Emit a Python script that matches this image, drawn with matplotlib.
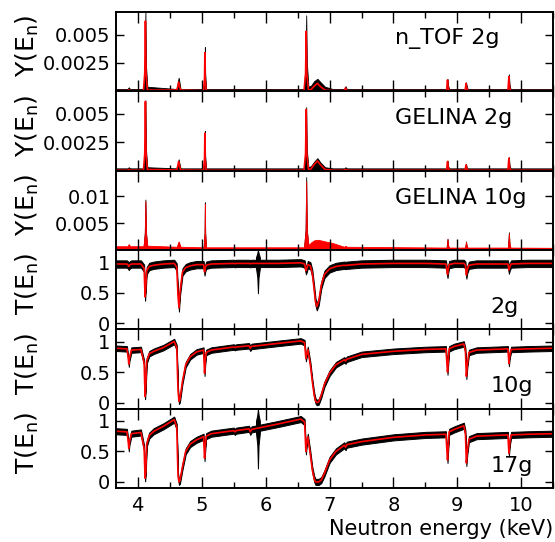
#capture yield and transmission of the 2g / 10g / 17g samples
#black = measured data, red = resonance shape fit

import matplotlib.pyplot as plt
from matplotlib.ticker import MultipleLocator
import numpy as np

plt.rcParams['font.family'] = 'DejaVu Sans'

# ---- capture yield panels (yield values in units of 1e-3) ----
e_yield = [3.66, 3.84, 3.86, 3.88,
           4.09, 4.11, 4.12, 4.13, 4.15,
           4.61, 4.63, 4.64, 4.65, 4.67,
           5.03, 5.045, 5.05, 5.055, 5.07,
           6.60, 6.625, 6.635, 6.645, 6.67,
           6.71, 6.76, 6.81, 6.86, 6.93, 7.05, 7.15,
           7.23, 7.25, 7.27,
           8.83, 8.845, 8.855, 8.87,
           9.12, 9.135, 9.145, 9.16,
           9.79, 9.805, 9.815, 9.83,
           10.5]

ntof2_fit = [0.05, 0.05, 0.12, 0.05,
             0.05, 1.6, 6.2, 1.6, 0.1,
             0.1, 0.5, 0.8, 0.5, 0.1,
             0.05, 1.2, 3.4, 1.2, 0.05,
             0.05, 1.5, 5.3, 1.5, 0.1,
             0.15, 0.45, 0.7, 0.4, 0.1, 0.05, 0.05,
             0.05, 0.3, 0.05,
             0.05, 1.0, 0.3, 0.05,
             0.05, 0.7, 0.3, 0.05,
             0.05, 1.3, 0.4, 0.05,
             0.05]
ntof2_data = [0.2, 0.2, 0.35, 0.2,
              0.2, 2.2, 7.0, 2.2, 0.4,
              0.2, 0.9, 1.2, 0.9, 0.2,
              0.2, 1.6, 3.9, 1.6, 0.2,
              0.2, 2.5, 6.7, 2.5, 0.4,
              0.5, 0.9, 1.1, 0.8, 0.4, 0.2, 0.2,
              0.2, 0.45, 0.2,
              0.2, 1.1, 0.5, 0.2,
              0.2, 0.8, 0.5, 0.2,
              0.2, 1.5, 0.6, 0.2,
              0.2]

gel2_fit = [0.03, 0.03, 0.1, 0.03,
            0.03, 1.5, 6.1, 1.5, 0.1,
            0.05, 0.5, 0.8, 0.5, 0.05,
            0.03, 1.1, 3.3, 1.1, 0.03,
            0.03, 1.5, 5.4, 1.5, 0.1,
            0.15, 0.55, 0.85, 0.5, 0.1, 0.03, 0.03,
            0.03, 0.1, 0.03,
            0.03, 0.8, 0.3, 0.03,
            0.03, 0.5, 0.2, 0.03,
            0.03, 1.1, 0.35, 0.03,
            0.03]
gel2_data = [0.2, 0.2, 0.3, 0.2,
             0.2, 1.8, 6.2, 1.8, 0.3,
             0.2, 0.7, 1.0, 0.7, 0.2,
             0.2, 1.3, 3.5, 1.3, 0.2,
             0.2, 1.8, 5.6, 1.8, 0.3,
             0.4, 0.8, 1.1, 0.7, 0.3, 0.2, 0.2,
             0.2, 0.3, 0.2,
             0.2, 0.9, 0.4, 0.2,
             0.2, 0.6, 0.3, 0.2,
             0.2, 1.2, 0.5, 0.2,
             0.2]

gel10_data = [0.7, 0.7, 1.1, 0.7,
              0.7, 3.0, 9.1, 3.0, 0.8,
              0.6, 1.3, 1.6, 1.3, 0.6,
              0.5, 3.0, 8.6, 3.0, 0.5,
              0.5, 3.5, 12.8, 3.5, 0.9,
              1.4, 1.8, 1.9, 1.8, 1.6, 1.3, 0.9,
              0.6, 0.8, 0.6,
              0.45, 2.0, 0.9, 0.45,
              0.45, 1.5, 0.8, 0.45,
              0.45, 3.1, 1.2, 0.45,
              0.4]
gel10_fit = [0.3, 0.3, 0.8, 0.3,
             0.3, 3.2, 9.4, 3.2, 0.5,
             0.3, 1.0, 1.4, 1.0, 0.3,
             0.3, 3.2, 8.9, 3.2, 0.3,
             0.3, 3.8, 13.6, 3.8, 0.6,
             1.0, 1.4, 1.5, 1.4, 1.2, 0.8, 0.4,
             0.3, 0.5, 0.3,
             0.3, 2.1, 0.6, 0.3,
             0.3, 1.6, 0.5, 0.3,
             0.3, 3.3, 0.8, 0.3,
             0.3]

# ---- transmission panels ----
e_trans = [3.66, 3.83, 3.85, 3.86, 3.87, 3.90,
           4.05, 4.10, 4.115, 4.125, 4.14, 4.18, 4.25, 4.40,
           4.57, 4.61, 4.63, 4.645, 4.66, 4.70, 4.75, 4.82, 4.92,
           5.03, 5.045, 5.055, 5.07, 5.15,
           5.50, 5.52, 5.54, 5.74, 5.76, 5.78, 6.20,
           6.55, 6.61, 6.63, 6.645, 6.66,
           6.70, 6.73, 6.76, 6.78, 6.80, 6.83, 6.87, 6.92, 7.00, 7.10,
           7.23, 7.25, 7.27, 7.50, 8.00, 8.50,
           8.82, 8.845, 8.855, 8.87, 8.95,
           9.10, 9.125, 9.14, 9.155, 9.18, 9.30,
           9.79, 9.805, 9.82, 9.84, 10.1, 10.5]

t2_fit = [0.97, 0.97, 0.95, 0.93, 0.95, 0.97,
          0.97, 0.90, 0.43, 0.58, 0.86, 0.93, 0.95, 0.97,
          0.98, 0.92, 0.45, 0.25, 0.50, 0.84, 0.91, 0.94, 0.96,
          0.96, 0.84, 0.90, 0.95, 0.97,
          0.98, 0.975, 0.98, 0.98, 0.975, 0.98, 0.98,
          0.99, 0.97, 0.86, 0.90, 0.96,
          0.94, 0.82, 0.55, 0.35, 0.27, 0.35, 0.62, 0.80, 0.89, 0.93,
          0.95, 0.945, 0.95, 0.97, 0.98, 0.98,
          0.97, 0.80, 0.88, 0.96, 0.98,
          0.98, 0.95, 0.79, 0.88, 0.95, 0.97,
          0.97, 0.87, 0.93, 0.97, 0.98, 0.98]

t10_fit = [0.89, 0.88, 0.75, 0.63, 0.72, 0.86,
           0.87, 0.65, 0.10, 0.25, 0.68, 0.80, 0.84, 0.90,
           1.00, 0.90, 0.20, 0.02, 0.05, 0.35, 0.62, 0.75, 0.83,
           0.86, 0.48, 0.65, 0.82, 0.86,
           0.91, 0.90, 0.91, 0.93, 0.89, 0.92, 0.97,
           1.01, 0.98, 0.72, 0.80, 0.87,
           0.62, 0.35, 0.12, 0.03, 0.0, 0.01, 0.12, 0.30, 0.48, 0.62,
           0.70, 0.68, 0.71, 0.79, 0.84, 0.87,
           0.88, 0.50, 0.65, 0.88, 0.92,
           0.96, 0.85, 0.43, 0.62, 0.82, 0.86,
           0.88, 0.64, 0.78, 0.87, 0.88, 0.89]

t17_fit = [0.83, 0.82, 0.68, 0.55, 0.65, 0.79,
           0.81, 0.55, 0.06, 0.15, 0.62, 0.76, 0.83, 0.91,
           1.02, 0.90, 0.10, 0.0, 0.02, 0.25, 0.50, 0.62, 0.69,
           0.74, 0.39, 0.55, 0.75, 0.79,
           0.84, 0.82, 0.84, 0.87, 0.82, 0.86, 0.95,
           1.03, 0.98, 0.50, 0.65, 0.74,
           0.45, 0.20, 0.05, 0.0, 0.0, 0.0, 0.03, 0.14, 0.36, 0.50,
           0.60, 0.57, 0.61, 0.66, 0.73, 0.77,
           0.78, 0.36, 0.55, 0.82, 0.86,
           0.92, 0.80, 0.31, 0.50, 0.70, 0.75,
           0.77, 0.47, 0.65, 0.77, 0.78, 0.79]

t2_spread = 0.06
t10_spread = 0.045
t17_spread = 0.05

# noisy bin near 5.88 keV in the 2g and 17g data
spike_e = [5.85, 5.87, 5.88, 5.89, 5.91]
spike2_lo = [0.90, 0.75, 0.49, 0.75, 0.90]
spike2_hi = [1.08, 1.15, 1.20, 1.15, 1.08]
spike17_lo = [0.80, 0.60, 0.22, 0.60, 0.80]
spike17_hi = [1.00, 1.10, 1.20, 1.10, 1.00]

yield_names = ['n_TOF 2g', 'GELINA 2g', 'GELINA 10g']
trans_names = ['2g', '10g', '17g']

fig, axs = plt.subplots(6, 1, sharex=True, figsize=(5.55, 5.42), dpi=100)
fig.subplots_adjust(left=0.209, right=0.997, top=0.978, bottom=0.0996, hspace=0)

ey = np.array(e_yield)
for ax, fit, dat in zip(axs[:2], [ntof2_fit, gel2_fit], [ntof2_data, gel2_data]):
	ax.fill_between(ey, 0, np.array(dat)*1e-3, color='black', lw=0.6)
	ax.plot(ey, np.array(fit)*1e-3, color='red', lw=1.2)
axs[2].fill_between(ey, 0, np.array(gel10_fit)*1e-3, color='black', lw=0.6)
axs[2].fill_between(ey, 0, np.array(gel10_data)*1e-3, color='red', lw=0.6)

et = np.array(e_trans)
for ax, fit, sp in zip(axs[3:], [t2_fit, t10_fit, t17_fit], [t2_spread, t10_spread, t17_spread]):
	fit = np.array(fit)
	ax.fill_between(et, fit - sp, fit + sp, color='black', lw=0.7)
axs[3].fill_between(spike_e, spike2_lo, spike2_hi, color='black', lw=0.7)
axs[5].fill_between(spike_e, spike17_lo, spike17_hi, color='black', lw=0.7)
for ax, fit in zip(axs[3:], [t2_fit, t10_fit, t17_fit]):
	ax.plot(et, fit, color='red', lw=1.2)

for ax in axs:
	ax.set_xlim(3.66, 10.5)
	ax.xaxis.set_major_locator(MultipleLocator(1))
	ax.xaxis.set_minor_locator(MultipleLocator(0.5))
	ax.tick_params(which='both', direction='in', top=True, right=True, labelsize=14, width=1)
	ax.tick_params(axis='x', which='major', length=8, pad=6)
	ax.tick_params(axis='x', which='minor', length=4)
	ax.tick_params(axis='y', which='major', length=6, pad=4)
	for s in ax.spines.values():
		s.set_linewidth(1.4)

for ax in axs[:2]:
	ax.set_ylim(0, 0.007)
	ax.set_yticks([0.0025, 0.005])
	ax.set_yticklabels(['0.0025', '0.005'])
axs[2].set_ylim(0, 0.0148)
axs[2].set_yticks([0.005, 0.01])
axs[2].set_yticklabels(['0.005', '0.01'])
for ax in axs[3:]:
	ax.set_ylim(-0.1, 1.2)
	ax.set_yticks([0, 0.5, 1])
	ax.set_yticklabels(['0', '0.5', '1'])

for ax, name in zip(axs[:3], yield_names):
	ax.text(0.638, 0.66, name, transform=ax.transAxes, fontsize=16, ha='left', va='center')
for ax, name in zip(axs[3:], trans_names):
	ax.text(0.857, 0.28, name, transform=ax.transAxes, fontsize=16, ha='left', va='center')

for i, ax in enumerate(axs):
	pos = ax.get_position()
	lab = r'Y(E$_{\rm n}$)' if i < 3 else r'T(E$_{\rm n}$)'
	fig.text(0.049, (pos.y0 + pos.y1)/2 + 0.01, lab, rotation=90, fontsize=18, ha='center', va='center')

fig.text(0.997, 1 - 535/542., 'Neutron energy (keV)', fontsize=15, ha='right', va='baseline')

fig.savefig('out.png', dpi=100)
